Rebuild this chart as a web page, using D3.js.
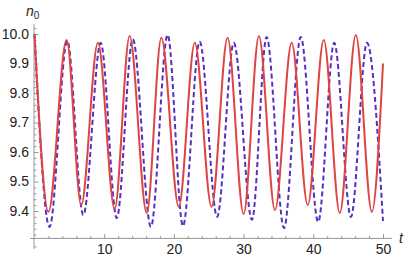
<!DOCTYPE html>
<html>
<head>
<meta charset="utf-8">
<script src="https://cdn.jsdelivr.net/npm/d3@7"></script>
<style>
  body { margin: 0; background: #fff; }
  #chart { width: 407px; height: 260px; }
  .axis text { font-family: "Liberation Sans", Arial, sans-serif; font-size: 14px; fill: #222; }
  .axis path, .axis line { stroke: #999; }
</style>
</head>
<body>
<div id="chart"></div>
<script>
/* DATA: turning points */
const redT = [0, 2.0, 4.6, 6.7, 9.1, 11.5, 13.65, 16.1, 18.2, 20.7, 23.0, 25.4, 27.7, 30.0, 32.2, 34.5, 36.9, 39.2, 41.5, 43.8, 46.1, 48.4, 50.0];
const redN = [10.0, 9.397, 9.98, 9.42, 9.97, 9.407, 9.993, 9.393, 9.987, 9.414, 9.97, 9.414, 9.987, 9.39, 9.993, 9.403, 9.97, 9.42, 9.98, 9.393, 9.997, 9.397, 9.90];

const blueT = [0, 2.16, 4.7, 7.0, 9.5, 11.8, 14.1, 16.7, 19.1, 21.3, 23.7, 26.2, 28.6, 31.2, 33.3, 35.8, 38.2, 40.7, 43.0, 45.4, 47.7, 50.0];
const blueN = [10.0, 9.346, 9.977, 9.386, 9.97, 9.376, 9.983, 9.346, 9.997, 9.349, 9.974, 9.38, 9.97, 9.37, 9.99, 9.342, 9.99, 9.363, 9.97, 9.38, 9.97, 9.366];

const xMajor = [10, 20, 30, 40, 50];
const yMajor = [9.4, 9.5, 9.6, 9.7, 9.8, 9.9, 10.0];

/* SVG */
const width = 407, height = 260;
const svg = d3.select("#chart").append("svg")
    .attr("width", width)
    .attr("height", height);

/* SCALES */
const xScale = d3.scaleLinear().domain([0, 50]).range([34.5, 383]);
const yScale = d3.scaleLinear().domain([9.4, 10.0]).range([211, 34]);
const xAxisAt = 9.307;

const xMinor = d3.range(2, 51, 2).filter(d => d % 10 !== 0);
const yMinor = d3.range(9.28, 10.03, 0.02).map(d => +d.toFixed(2))
    .filter(d => Math.abs(d * 10 - Math.round(d * 10)) > 1e-6);

/* AXES */
const xAxis = svg.append("g")
    .attr("class", "axis")
    .attr("transform", `translate(0,${yScale(xAxisAt)})`);
xAxis.append("line")
    .attr("x1", 30).attr("x2", 392).attr("y1", 0).attr("y2", 0);
xAxis.append("g")
    .call(d3.axisBottom(xScale).tickValues(xMinor).tickSize(-2.5).tickFormat(""))
    .call(g => g.select(".domain").remove());
xAxis.append("g")
    .call(d3.axisBottom(xScale).tickValues(xMajor).tickSize(-4.5).tickPadding(6).tickFormat(d3.format("d")))
    .call(g => g.select(".domain").remove());

const yAxis = svg.append("g")
    .attr("class", "axis")
    .attr("transform", `translate(${xScale(0) - 0.5},0)`);
yAxis.append("line")
    .attr("x1", 0).attr("x2", 0).attr("y1", 24).attr("y2", 249);
yAxis.append("g")
    .call(d3.axisLeft(yScale).tickValues(yMinor).tickSize(-2.5).tickFormat(""))
    .call(g => g.select(".domain").remove());
yAxis.append("g")
    .call(d3.axisLeft(yScale).tickValues(yMajor).tickSize(-4.5).tickPadding(5).tickFormat(d3.format(".1f")))
    .call(g => g.select(".domain").remove());

/* CURVES */
const line = d3.line()
    .x(d => xScale(d[0]))
    .y(d => yScale(d[1]))
    .curve(d3.curveMonotoneX);

svg.append("path")
    .datum(blueT.map((t, i) => [t, blueN[i]]))
    .attr("d", line)
    .attr("fill", "none")
    .attr("stroke", "#5530c0")
    .attr("stroke-width", 2)
    .attr("stroke-dasharray", "5,3");

svg.append("path")
    .datum(redT.map((t, i) => [t, redN[i]]))
    .attr("d", line)
    .attr("fill", "none")
    .attr("stroke", "#dc4542")
    .attr("stroke-width", 2);

/* AXIS LABELS */
const yLabel = svg.append("text")
    .attr("x", 26)
    .attr("y", 16)
    .attr("font-family", "'Liberation Sans', Arial, sans-serif")
    .attr("fill", "#222");
yLabel.append("tspan").attr("font-style", "italic").attr("font-size", 14).text("n");
yLabel.append("tspan").attr("font-size", 10).attr("dy", 3).text("0");

svg.append("text")
    .attr("x", 399)
    .attr("y", 243)
    .attr("font-family", "'Liberation Sans', Arial, sans-serif")
    .attr("font-style", "italic")
    .attr("font-size", 14)
    .attr("fill", "#222")
    .text("t");
</script>
</body>
</html>
